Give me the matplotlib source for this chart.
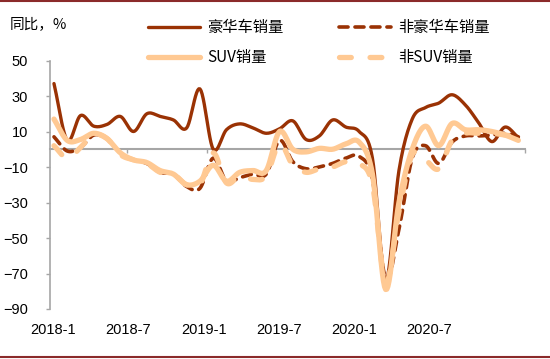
import numpy as np
import matplotlib.pyplot as plt
import matplotlib.transforms as mtransforms
from matplotlib.lines import Line2D

plt.rcParams['font.family'] = ['Liberation Sans', 'Noto Sans CJK SC', 'DejaVu Sans']
plt.rcParams['lines.scale_dashes'] = False

# monthly, 2018-1 .. 2020-12
months = np.arange(36)
luxury = [37, 5, 19, 13, 14, 18.5, 10, 20, 18.5, 16.5, 12, 34,
          0, 11, 14.3, 12, 9, 11.5, 16, 5.5, 7.5, 16.5, 12.5, 10,
          -5, -74, -12, 17, 23.5, 26, 30.7, 25, 15, 4.3, 12.5, 6.5]
non_luxury = [7, -1, 1, 8, 6, -2, -6, -8, -13, -14, -21, -22,
              -5, -18, -16, -14, -14, 5, -7, -11, -10, -8, -5, -4,
              -17, -73, -45, -5, 2, -8, 4, 7.5, 7.5, 8, 9, 7]
suv = [17, 5, 5.5, 9, 6, -2, -6, -7.5, -12, -14, -20, -18,
       -9, -18, -13, -12, -12, 10, 0, -1.5, 0.5, 0, 3, 4,
       -14, -79, -30, 0, 13, 2, 14.5, 11, 11, 10, 8, 5]
non_suv = [2, -5, 1, 8, 6, -3, -6, -8, -13, -14, -20, -20,
           -2, -19, -15, -17, -15, 3, -9, -13, -11, -10, -7, -8,
           -20, -75, -35, -3, -6, -11, 5, 9, 9, 9, 8, 7]

series_names = ['豪华车销量', '非豪华车销量', 'SUV销量', '非SUV销量']
xtick_labels = ['2018-1', '2018-7', '2019-1', '2019-7', '2020-1', '2020-7']
xtick_label_pos = [-0.08, 5.58, 11.3, 16.96, 22.6, 28.3]
yticks = [50, 30, 10, -10, -30, -50, -70, -90]

DARK = '#9A3204'
LIGHT = '#FFC993'


def smooth(x, y, n=12):
    # catmull-rom, like excel's smoothed line
    x = np.asarray(x, float)
    y = np.asarray(y, float)
    px = np.concatenate([[2 * x[0] - x[1]], x, [2 * x[-1] - x[-2]]])
    py = np.concatenate([[2 * y[0] - y[1]], y, [2 * y[-1] - y[-2]]])
    t = np.linspace(0, 1, n, endpoint=False)
    xs, ys = [], []
    for i in range(1, len(px) - 2):
        for p, out in ((px, xs), (py, ys)):
            p0, p1, p2, p3 = p[i - 1], p[i], p[i + 1], p[i + 2]
            out.extend(0.5 * (2 * p1 + (-p0 + p2) * t
                              + (2 * p0 - 5 * p1 + 4 * p2 - p3) * t ** 2
                              + (-p0 + 3 * p1 - 3 * p2 + p3) * t ** 3))
    xs.append(x[-1])
    ys.append(y[-1])
    return np.array(xs), np.array(ys)


fig = plt.figure(figsize=(5.5, 3.59), dpi=100)
ax = fig.add_axes([50 / 550, 1 - 309 / 359, 475 / 550, 248.5 / 359])

styles = [
    dict(color=DARK, lw=2.4, ls='-'),
    dict(color=DARK, lw=2.6, dashes=(6.5, 5.0)),
    dict(color=LIGHT, lw=3.8, ls='-'),
    dict(color=LIGHT, lw=3.8, dashes=(8.5, 13.5)),
]
handles = []
for data, name, st in zip([luxury, non_luxury, suv, non_suv], series_names, styles):
    sx, sy = smooth(months, data)
    ln, = ax.plot(sx, sy, label=name, solid_capstyle='round',
                  dash_capstyle='round', **st)
    handles.append(ln)

ax.set_xlim(-0.3, 35.5)
ax.set_ylim(-90, 50)
ax.set_yticks(yticks)
ax.tick_params(axis='y', direction='out', length=3, width=1, color='#A6A6A6',
               pad=13, labelsize=10.5)

for s in ['top', 'right']:
    ax.spines[s].set_visible(False)
ax.spines['left'].set_color('#A6A6A6')
ax.spines['left'].set_linewidth(1.2)
ax.spines['bottom'].set_position(('data', 0))
ax.spines['bottom'].set_color('#A6A6A6')
ax.spines['bottom'].set_linewidth(1.5)
ax.spines['bottom'].set_zorder(0.5)
ax.set_xticks([5.5, 11.5, 17.5, 23.5, 29.5, 35.5])
ax.tick_params(axis='x', direction='out', length=3, width=1, color='#A6A6A6',
               labelbottom=False)

trans = mtransforms.blended_transform_factory(ax.transData, ax.transAxes)
for pos, lab in zip(xtick_label_pos, xtick_labels):
    ax.text(pos, -0.085, lab, transform=trans, ha='center', va='center',
            fontsize=10.5)

fig.text(10 / 550, 1 - 25 / 359, '同比，%', ha='left', va='center',
         fontsize=10.5, family=['Noto Sans CJK SC', 'DejaVu Sans'])

# legend fills column by column: reorder so rows read lux/non-lux, suv/non-suv
leg_order = [0, 2, 1, 3]
leg = fig.legend(handles=[handles[i] for i in leg_order], ncol=2, loc='upper left',
                 bbox_to_anchor=(148 / 550, 1 - 19 / 359), frameon=False,
                 handlelength=3.4, handletextpad=0.5, columnspacing=3.6,
                 labelspacing=0.85, borderpad=0, borderaxespad=0,
                 prop={'family': ['Noto Sans CJK SC', 'DejaVu Sans'], 'size': 11})

fig.add_artist(Line2D([0, 1], [1 - 1 / 359, 1 - 1 / 359], color='#8B2A2A', lw=1.5,
                      transform=fig.transFigure))
fig.add_artist(Line2D([0, 1], [2.5 / 359, 2.5 / 359], color='#8B2A2A', lw=1.5,
                      transform=fig.transFigure))

fig.savefig('out.png', dpi=100)
